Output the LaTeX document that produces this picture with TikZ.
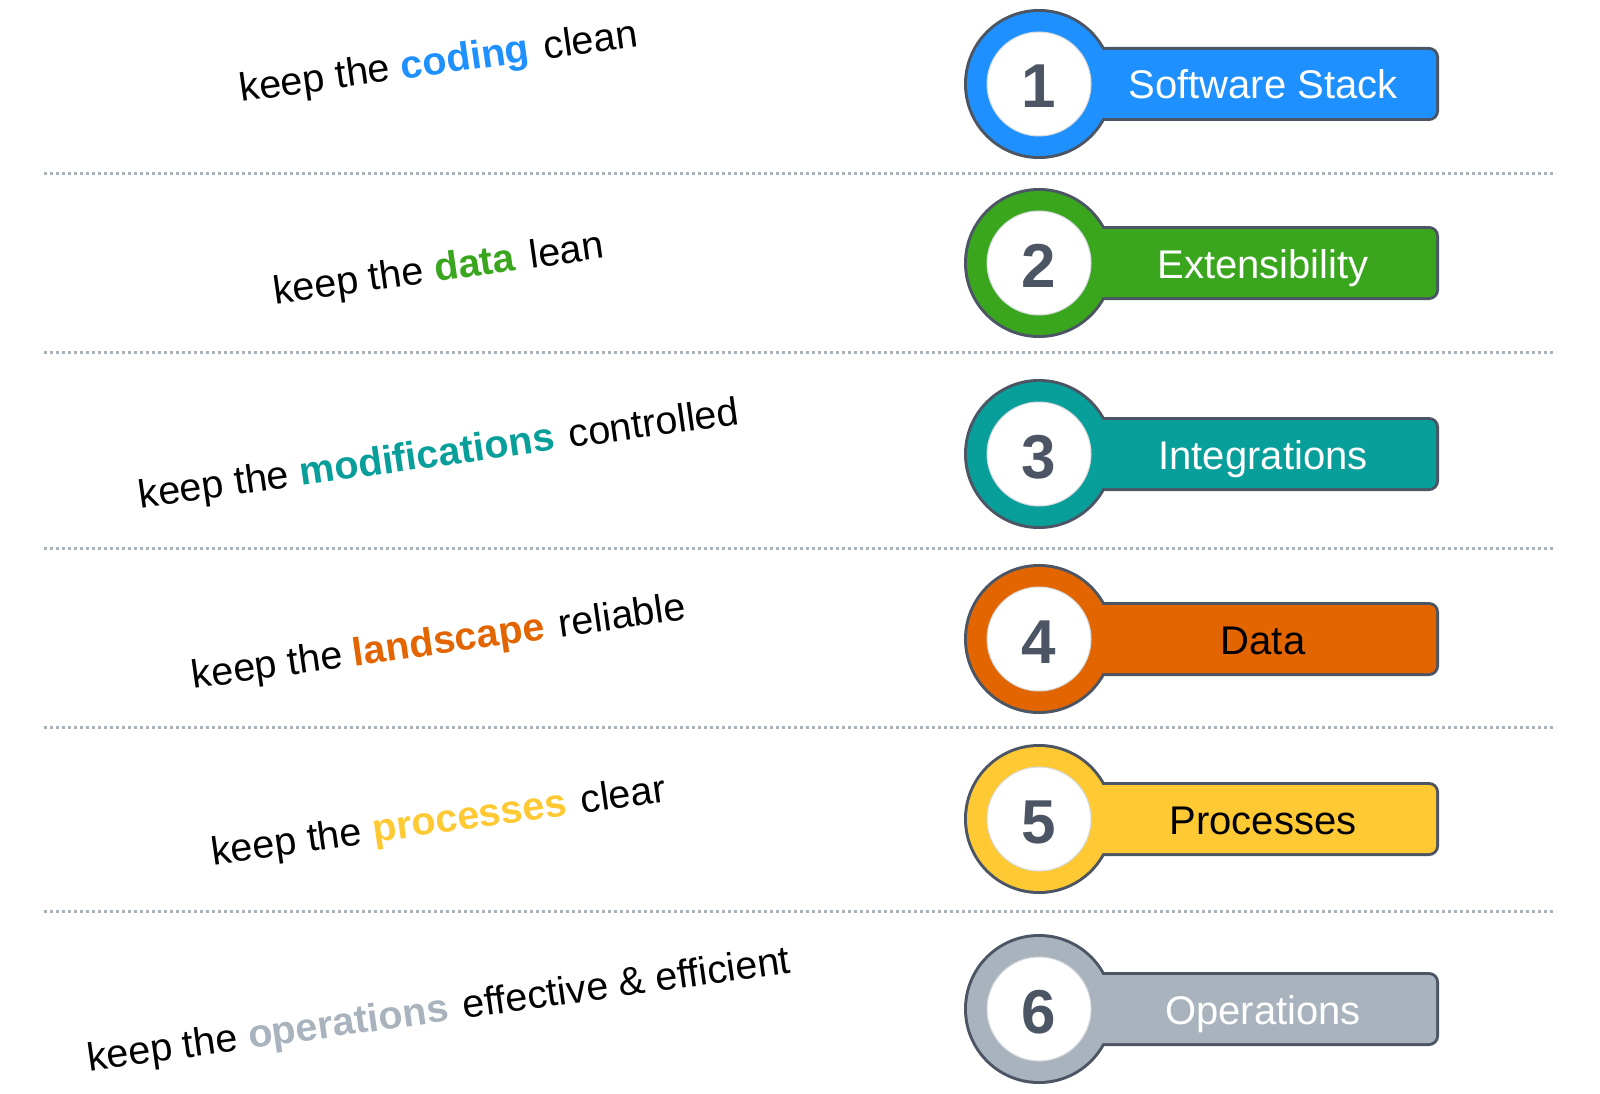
\documentclass[tikz,border=0pt]{standalone}
\usepackage{fontspec}
\setmainfont{Liberation Sans}
\definecolor{c1}{HTML}{1E90FF}
\definecolor{c2}{HTML}{3AA61E}
\definecolor{c3}{HTML}{089E9A}
\definecolor{c4}{HTML}{E36500}
\definecolor{c5}{HTML}{FFC933}
\definecolor{c6}{HTML}{A9B3BD}
\definecolor{edgec}{HTML}{4B5563}
\definecolor{dotc}{HTML}{A9B3BD}
\definecolor{innerc}{HTML}{D5D9DE}
\tikzset{
  dotline/.style={dotc, line width=3pt, dash pattern=on 3pt off 3pt},
  numtext/.style={text=edgec, font=\fontsize{62}{70}\selectfont\bfseries, inner sep=0pt, anchor=base},
  labtext/.style={font=\fontsize{40}{48}\selectfont, inner sep=0pt, anchor=base},
  motto/.style={font=\fontsize{39.5}{46}\selectfont, rotate=8, inner sep=0pt},
}
\begin{document}
\begin{tikzpicture}[x=1pt,y=-1pt]
\useasboundingbox[fill=white] (0,0) rectangle (1600,1094);
% dotted separators
\foreach \yy in {174,352,548,727,911}
  \draw[dotline] (44,\yy) -- (1556,\yy);
% badges
\foreach \i/\y/\col/\lab/\tc in {1/84/c1/Software Stack/white,2/263/c2/Extensibility/white,3/454/c3/Integrations/white,4/639/c4/Data/black,5/819/c5/Processes/black,6/1009/c6/Operations/white}{
  \fill[edgec] (1039,\y) circle (75);
  \fill[edgec, rounded corners=10pt] (1039,\y-37) rectangle (1439,\y+37);
  \fill[\col] (1039,\y) circle (72);
  \fill[\col, rounded corners=7pt] (1039,\y-34) rectangle (1436,\y+34);
  \fill[white, draw=innerc, line width=1pt] (1039,\y) circle (52);
  \node[numtext] (num\i) at (1039,\y+24) {\i};
  \node[labtext, text=\tc] (lab\i) at (1263,\y+15) {\lab};
}
% mottos
\foreach \i/\y/\word/\post/\col in {1/64/coding/clean/c1,2/271/data/lean/c2,3/456/modifications/controlled/c3,4/644/landscape/reliable/c4,5/823/processes/clear/c5,6/1012/operations/effective \& efficient/c6}{
  \node[motto] (motto\i) at (439,\y) {keep the \textcolor{\col}{\bfseries\word}\hspace{0.38em}\post};
}
\end{tikzpicture}
\end{document}
